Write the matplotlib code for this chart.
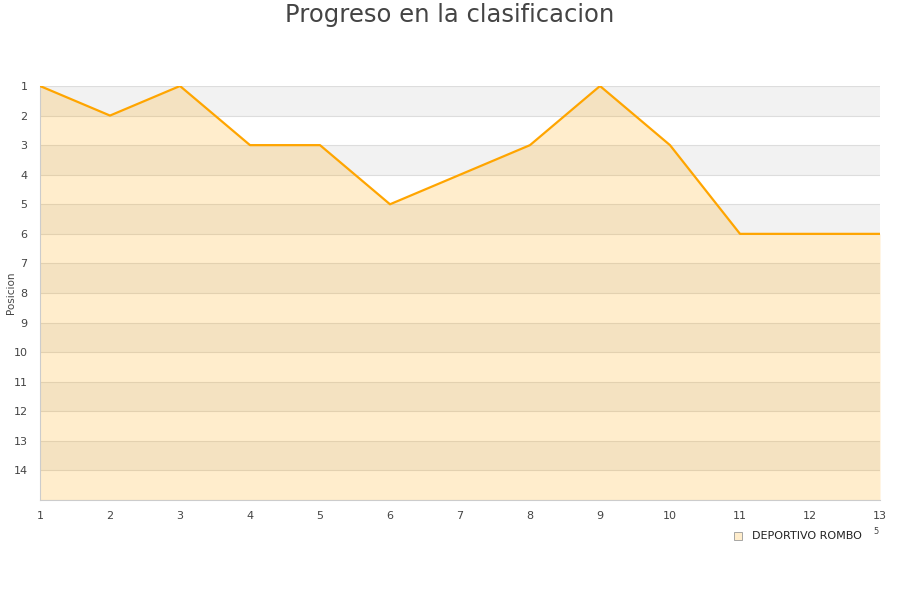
import numpy as np
import matplotlib.pyplot as plt

jornadas = list(range(1, 14))
posiciones = [1, 2, 1, 3, 3, 5, 4, 3, 1, 3, 6, 6, 6]
equipo = "DEPORTIVO ROMBO"
y_ticks = list(range(1, 15))
y_bottom = 15

fig = plt.figure(figsize=(9, 6), dpi=100)
ax = fig.add_axes([40 / 900, 1 - 500 / 600, 840 / 900, 414 / 600])

# alternating bands
for i in range(1, y_bottom):
    color = '#f2f2f2' if i % 2 == 1 else '#ffffff'
    ax.axhspan(i, i + 1, color=color, zorder=0, lw=0)
for i in range(1, y_bottom + 1):
    ax.axhline(i, color='#dddddd', lw=0.8, zorder=1)

ax.fill_between(jornadas, posiciones, y_bottom, color='#ffa500', alpha=0.2, lw=0, zorder=2)
ax.plot(jornadas, posiciones, color='#ffa500', lw=1.6, zorder=3)

ax.set_xlim(1, 13)
ax.set_ylim(y_bottom, 1)
ax.set_xticks(jornadas)
ax.set_yticks(y_ticks)
ax.tick_params(length=0, labelsize=8, labelcolor='#444444')
ax.tick_params(axis='x', pad=8)
ax.tick_params(axis='y', pad=9)
for s in ['top', 'right']:
    ax.spines[s].set_visible(False)
for s in ['left', 'bottom']:
    ax.spines[s].set_color('#cccccc')

fig.text(11 / 900, 1 - 293 / 600, 'Posicion', rotation=90, ha='center', va='center',
         fontsize=7.5, color='#444444')

fig.text(0.5, 0.995, 'Progreso en la clasificacion', ha='center', va='top',
         fontsize=17.5, color='#444444')

# legend
fig.patches.append(plt.Rectangle((734 / 900, 1 - 540 / 600), 8 / 900, 8 / 600,
                                 transform=fig.transFigure, facecolor='#ffedcc',
                                 edgecolor='#999999', lw=0.6))
fig.text(752 / 900, 1 - 536 / 600, equipo, fontsize=8, va='center', color='#222222')
fig.text(873 / 900, 1 - 532 / 600, '5', fontsize=6, va='center', color='#444444')

fig.savefig('out.png', dpi=100)
